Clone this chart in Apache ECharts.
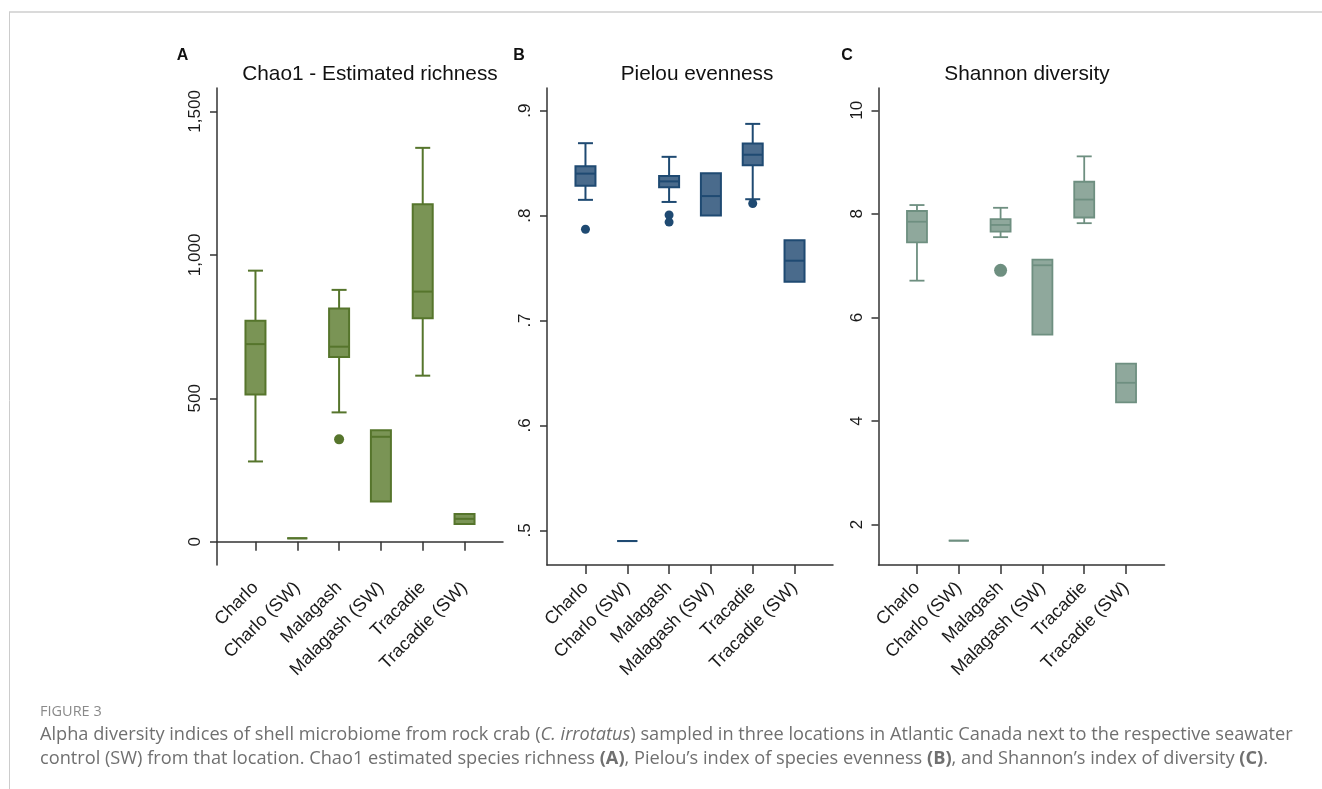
<!DOCTYPE html>
<html>
<head>
<meta charset="utf-8">
<script src="https://cdn.jsdelivr.net/npm/echarts@6/dist/echarts.min.js"></script>
<style>
html,body{margin:0;padding:0;background:#fff;}
#chart{width:1322px;height:789px;}
</style>
</head>
<body>
<div id="chart"></div>
<script>
// ---------- data ----------
const categories = ['Charlo', 'Charlo (SW)', 'Malagash', 'Malagash (SW)', 'Tracadie', 'Tracadie (SW)'];
const catPos = [1, 2, 3, 4, 5, 6];

// Chao1 - Estimated richness: [lower whisker, Q1, median, Q3, upper whisker]
const chao1Low = [280, 12, 451, 140, 579, 62];
const chao1Q1 = [513, 12, 644, 140, 779, 62];
const chao1Med = [689, 12, 680, 366, 872, 80];
const chao1Q3 = [770, 12, 813, 389, 1176, 97];
const chao1High = [945, 12, 878, 389, 1373, 97];
const chao1Outliers = [[3, 357]];
const chao1Ticks = [0, 500, 1000, 1500];

// Pielou evenness
const pielouLow = [0.815, 0.4898, 0.813, 0.800, 0.8156, 0.737];
const pielouQ1 = [0.8285, 0.4898, 0.827, 0.800, 0.848, 0.737];
const pielouMed = [0.840, 0.4898, 0.8326, 0.8186, 0.858, 0.757];
const pielouQ3 = [0.847, 0.4898, 0.8377, 0.8404, 0.8687, 0.7764];
const pielouHigh = [0.869, 0.4898, 0.856, 0.8404, 0.8874, 0.7764];
const pielouOutliers = [[1, 0.787], [3, 0.8006], [3, 0.7938], [5, 0.8115]];
const pielouTicks = [0.5, 0.6, 0.7, 0.8, 0.9];

// Shannon diversity
const shannonLow = [6.71, 1.69, 7.55, 5.669, 7.82, 4.359];
const shannonQ1 = [7.448, 1.69, 7.655, 5.669, 7.93, 4.359];
const shannonMed = [7.848, 1.69, 7.786, 7.007, 8.276, 4.738];
const shannonQ3 = [8.055, 1.69, 7.897, 7.117, 8.62, 5.11];
const shannonHigh = [8.17, 1.69, 8.117, 7.117, 9.11, 5.11];
const shannonOutliers = [[3, 6.91]];
const shannonTicks = [2, 4, 6, 8, 10];

const panelTitles = ['Chao1 - Estimated richness', 'Pielou evenness', 'Shannon diversity'];
const panelLetters = ['A', 'B', 'C'];

// ---------- styling ----------
const BOX_W = 20, CAP_W = 15, LW = 2;
const palettes = [
  { fill: '#7a9455', stroke: '#56752c', dot: 10, lw: 2 },
  { fill: '#4a6b8c', stroke: '#1f4a72', dot: 9, lw: 2 },
  { fill: '#8fa89c', stroke: '#6e8f80', dot: 13, lw: 1.8 }
];
const gridLefts = [217, 547, 878.5];
const yRanges = [[-80.9, 1581.6], [0.467, 0.9216], [1.22, 10.43]];
const yFormat = [
  v => Number(v).toLocaleString('en-US'),
  v => Number(v).toFixed(1).replace(/^0/, ''),
  v => String(v)
];
const titleCenters = [370, 697, 1027];
const letterCenters = [182.5, 519, 847];

const panels = [
  { low: chao1Low, q1: chao1Q1, med: chao1Med, q3: chao1Q3, high: chao1High, out: chao1Outliers, ticks: chao1Ticks },
  { low: pielouLow, q1: pielouQ1, med: pielouMed, q3: pielouQ3, high: pielouHigh, out: pielouOutliers, ticks: pielouTicks },
  { low: shannonLow, q1: shannonQ1, med: shannonMed, q3: shannonQ3, high: shannonHigh, out: shannonOutliers, ticks: shannonTicks }
];

function makeRender(pal) {
  return function (params, api) {
    const x = api.value(0);
    const lo = api.value(1), q1 = api.value(2), med = api.value(3), q3 = api.value(4), hi = api.value(5);
    const pLo = api.coord([x, lo]), pQ1 = api.coord([x, q1]), pMed = api.coord([x, med]);
    const pQ3 = api.coord([x, q3]), pHi = api.coord([x, hi]);
    const cx = pMed[0];
    const hw = BOX_W / 2, cw = CAP_W / 2;
    const ls = { stroke: pal.stroke, lineWidth: pal.lw, fill: null };
    const children = [];
    if (hi > q3) {
      children.push({ type: 'line', shape: { x1: cx, y1: pQ3[1], x2: cx, y2: pHi[1] }, style: ls });
      children.push({ type: 'line', shape: { x1: cx - cw, y1: pHi[1], x2: cx + cw, y2: pHi[1] }, style: ls });
    }
    if (lo < q1) {
      children.push({ type: 'line', shape: { x1: cx, y1: pQ1[1], x2: cx, y2: pLo[1] }, style: ls });
      children.push({ type: 'line', shape: { x1: cx - cw, y1: pLo[1], x2: cx + cw, y2: pLo[1] }, style: ls });
    }
    children.push({
      type: 'rect',
      shape: { x: cx - hw, y: pQ3[1], width: BOX_W, height: pQ1[1] - pQ3[1] },
      style: { fill: pal.fill, stroke: pal.stroke, lineWidth: pal.lw }
    });
    children.push({ type: 'line', shape: { x1: cx - hw, y1: pMed[1], x2: cx + hw, y2: pMed[1] }, style: ls });
    return { type: 'group', children: children };
  };
}

const grids = [], xAxes = [], yAxes = [], series = [], graphics = [];
const axisColor = '#333';
panels.forEach((p, i) => {
  grids.push({ left: gridLefts[i], top: 88, width: 286, height: 477, containLabel: false, outerBoundsMode: 'none' });
  xAxes.push({
    type: 'value', gridIndex: i, min: 0.08, max: 6.92,
    axisLine: { show: true, lineStyle: { color: axisColor, width: 1.5 } },
    axisTick: { show: true, length: 9, customValues: catPos, lineStyle: { color: axisColor, width: 1.5 } },
    axisLabel: {
      show: true, customValues: catPos, rotate: 45, margin: 20,
      fontFamily: 'Liberation Sans', fontSize: 18, color: '#1a1a1a',
      formatter: v => categories[Math.round(v) - 1]
    },
    splitLine: { show: false }
  });
  yAxes.push({
    type: 'value', gridIndex: i, min: yRanges[i][0], max: yRanges[i][1],
    axisLine: { show: true, lineStyle: { color: axisColor, width: 1.5 } },
    axisTick: { show: true, length: 7, customValues: p.ticks, lineStyle: { color: axisColor, width: 1.5 } },
    axisLabel: {
      show: true, customValues: p.ticks, rotate: 90, margin: 13,
      fontFamily: 'Liberation Sans', fontSize: 17, color: '#1a1a1a',
      formatter: yFormat[i]
    },
    splitLine: { show: false }
  });
  const rows = catPos.map((x, k) => [x, p.low[k], p.q1[k], p.med[k], p.q3[k], p.high[k]]);
  series.push({
    type: 'custom', xAxisIndex: i, yAxisIndex: i,
    renderItem: makeRender(palettes[i]),
    encode: { x: 0, y: [1, 2, 3, 4, 5] },
    data: rows, silent: true, animation: false
  });
  series.push({
    type: 'scatter', xAxisIndex: i, yAxisIndex: i,
    data: p.out, symbol: 'circle', symbolSize: palettes[i].dot,
    itemStyle: { color: palettes[i].stroke, opacity: 1 },
    silent: true, animation: false
  });
  graphics.push({
    type: 'text', x: titleCenters[i], y: 74,
    style: { text: panelTitles[i], fontFamily: 'Liberation Sans', fontSize: 20.8, fill: '#111', textAlign: 'center', textVerticalAlign: 'middle' }
  });
  graphics.push({
    type: 'text', x: letterCenters[i], y: 56,
    style: { text: panelLetters[i], fontFamily: 'Liberation Sans', fontWeight: 'bold', fontSize: 16, fill: '#111', textAlign: 'center', textVerticalAlign: 'middle' }
  });
});

// frame
graphics.push({ type: 'line', shape: { x1: 9, y1: 12, x2: 1322, y2: 12 }, style: { stroke: '#dadada', lineWidth: 2 } });
graphics.push({ type: 'line', shape: { x1: 9.5, y1: 12, x2: 9.5, y2: 789 }, style: { stroke: '#cccccc', lineWidth: 1 } });

// caption
const capFont = 'Open Sans';
const capSize = 18.2;
graphics.push({
  type: 'text', x: 40, y: 712,
  style: { text: 'FIGURE 3', fontFamily: capFont, fontSize: 14.5, fill: '#8a8a8a', textVerticalAlign: 'middle' }
});
const capRich = {
  n: { fontFamily: capFont, fontSize: capSize, fill: '#707070' },
  i: { fontFamily: capFont, fontSize: capSize, fill: '#707070', fontStyle: 'italic' },
  b: { fontFamily: capFont, fontSize: capSize, fill: '#707070', fontWeight: 'bold' }
};
graphics.push({
  type: 'text', x: 40, y: 735,
  style: {
    text: '{n|Alpha diversity indices of shell microbiome from rock crab (}{i|C. irrotatus}{n|) sampled in three locations in Atlantic Canada next to the respective seawater}',
    rich: capRich, textVerticalAlign: 'middle'
  }
});
graphics.push({
  type: 'text', x: 40, y: 759,
  style: {
    text: '{n|control (SW) from that location. Chao1 estimated species richness }{b|(A)}{n|, Pielou\u2019s index of species evenness }{b|(B)}{n|, and Shannon\u2019s index of diversity }{b|(C)}{n|.}',
    rich: capRich, textVerticalAlign: 'middle'
  }
});

const chart = echarts.init(document.getElementById('chart'), null, { renderer: 'canvas' });
chart.setOption({
  animation: false,
  backgroundColor: '#ffffff',
  grid: grids,
  xAxis: xAxes,
  yAxis: yAxes,
  series: series,
  graphic: graphics
});
</script>
</body>
</html>
